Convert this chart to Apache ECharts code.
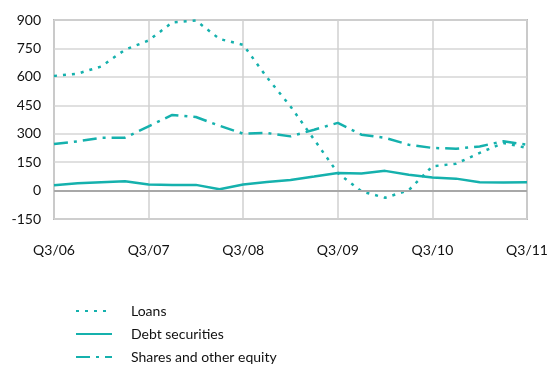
<!DOCTYPE html>
<html>
<head>
<meta charset="utf-8">
<script src="https://cdn.jsdelivr.net/npm/echarts@6/dist/echarts.min.js"></script>
<style>
  html, body { margin: 0; padding: 0; background: #fff; }
  #chart { width: 558px; height: 370px; }
</style>
</head>
<body>
<div id="chart"></div>
<script>
// quarters Q3/06 .. Q3/11
const quarters = ['Q3/06','Q4/06','Q1/07','Q2/07','Q3/07','Q4/07','Q1/08','Q2/08','Q3/08','Q4/08','Q1/09','Q2/09',
  'Q3/09','Q4/09','Q1/10','Q2/10','Q3/10','Q4/10','Q1/11','Q2/11','Q3/11'];
const loans = [605, 617, 655, 743, 792, 887, 897, 800, 769, 598, 444, 269, 93, -4, -38, 2, 128, 142, 199, 251, 225];
const debtSecurities = [28, 38, 44, 49, 32, 30, 30, 7, 32, 45, 56, 74, 93, 90, 104, 84, 69, 63, 44, 42, 44];
const sharesEquity = [246, 260, 278, 279, 339, 399, 388, 342, 300, 304, 286, 321, 357, 295, 278, 242, 225, 221, 233, 260, 242];
const yTicks = { min: -150, max: 900, interval: 150 };

const teal = '#15b1ad';
const font = 'Lato, "Open Sans", sans-serif';

var chart = echarts.init(document.getElementById('chart'));
chart.setOption({
  animation: false,
  textStyle: { fontFamily: font },
  grid: {
    left: 54, right: 31, top: 20, bottom: 151,
    show: true, borderColor: '#b9b9b9', borderWidth: 2
  },
  legend: {
    orient: 'vertical',
    left: 75,
    top: 304,
    padding: 0,
    itemWidth: 36,
    itemHeight: 12,
    itemGap: 9,
    itemStyle: { opacity: 0 },
    textStyle: { fontSize: 14, color: '#111', fontFamily: font, padding: [0, 0, 0, 14] },
    data: ['Loans', 'Debt securities', 'Shares and other equity']
  },
  xAxis: {
    type: 'category',
    boundaryGap: false,
    data: quarters,
    axisLine: { show: false },
    axisTick: { show: false },
    axisLabel: {
      interval: 3,
      margin: 24,
      fontSize: 14,
      color: '#111'
    },
    splitLine: { show: true, interval: 3, lineStyle: { color: '#d0d0d0', width: 1.5 } }
  },
  yAxis: {
    type: 'value',
    min: yTicks.min,
    max: yTicks.max,
    interval: yTicks.interval,
    axisLine: { show: false },
    axisTick: { show: false },
    axisLabel: { fontSize: 14, color: '#111', margin: 13 },
    splitLine: { lineStyle: { color: '#d6d6d6', width: 1.5 } }
  },
  series: [
    {
      name: 'Loans', type: 'line', data: loans, symbol: 'none',
      lineStyle: { color: teal, width: 2.5, type: [3, 6] },
      itemStyle: { color: teal },
      markLine: {
        silent: true, symbol: 'none', label: { show: false },
        lineStyle: { color: '#a8a8a8', width: 2, type: 'solid' },
        data: [{ yAxis: 0 }]
      }
    },
    {
      name: 'Debt securities', type: 'line', data: debtSecurities, symbol: 'none',
      lineStyle: { color: teal, width: 2.5, type: 'solid' },
      itemStyle: { color: teal }
    },
    {
      name: 'Shares and other equity', type: 'line', data: sharesEquity, symbol: 'none',
      lineStyle: { color: teal, width: 2.5, type: [14, 6, 3, 6] },
      itemStyle: { color: teal }
    }
  ]
});
</script>
</body>
</html>
